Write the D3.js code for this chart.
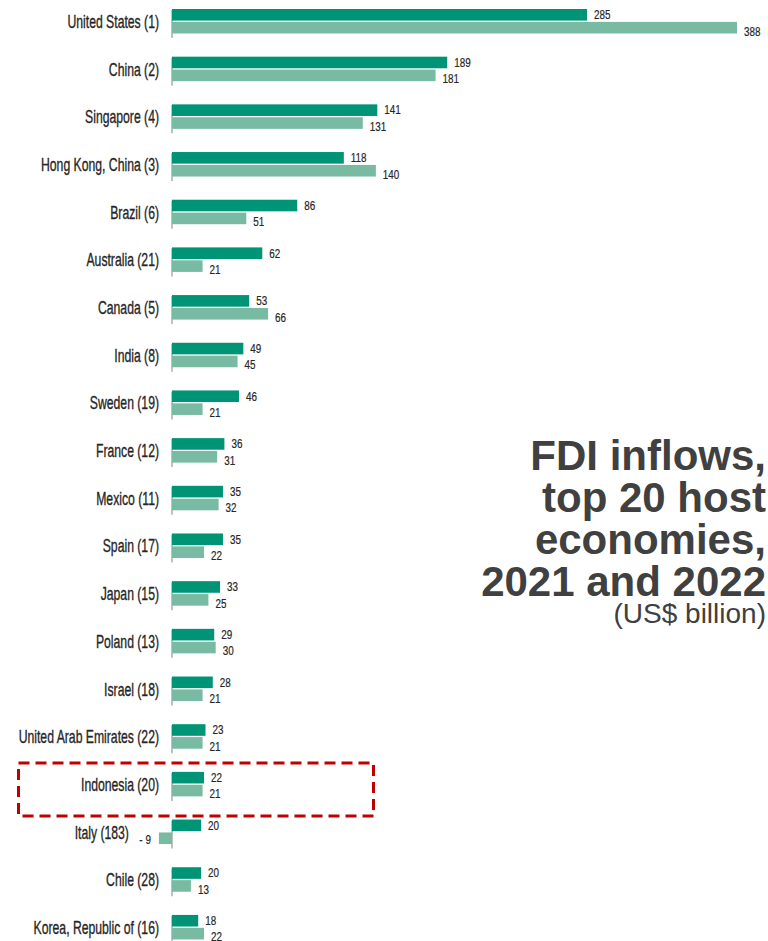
<!DOCTYPE html>
<html>
<head>
<meta charset="utf-8">
<script src="https://cdn.jsdelivr.net/npm/d3@7"></script>
<style>
  body { margin: 0; background: #fff; }
  svg { display: block; }
</style>
</head>
<body>
<script>
const width = 768;
const height = 941;

// economies (2022 rank vs 2021 rank in brackets), top to bottom
const economies = [
  "United States (1)", "China (2)", "Singapore (4)", "Hong Kong, China (3)",
  "Brazil (6)", "Australia (21)", "Canada (5)", "India (8)", "Sweden (19)",
  "France (12)", "Mexico (11)", "Spain (17)", "Japan (15)", "Poland (13)",
  "Israel (18)", "United Arab Emirates (22)", "Indonesia (20)", "Italy (183)",
  "Chile (28)", "Korea, Republic of (16)"
];
const years = ["2022", "2021"];
const values2022 = [285, 189, 141, 118, 86, 62, 53, 49, 46, 36, 35, 35, 33, 29, 28, 23, 22, 20, 20, 18];
const values2021 = [388, 181, 131, 140, 51, 21, 66, 45, 21, 31, 32, 22, 25, 30, 21, 21, 21, -9, 13, 22];
const highlighted = "Indonesia (20)";

const colors = { "2022": "#009476", "2021": "#78baa2" };
const font = "'Liberation Sans', Arial, sans-serif";
// the original uses a condensed face, so squeeze the labels horizontally
const squeeze = 0.66;
const squeezeVal = 0.76;

const svg = d3.select("body")
  .append("svg")
  .attr("width", width)
  .attr("height", height);

const x = d3.scaleLinear()
  .domain([0, 388])
  .range([172, 737]);

const y = d3.scaleBand()
  .domain(economies)
  .range([4, 4 + economies.length * 47.68]);

const yInner = d3.scaleBand()
  .domain(years)
  .range([5, 29.5])
  .paddingInner(0.1);

const rows = economies.map(function(name, i) {
  return { name: name, min: Math.min(0, values2022[i], values2021[i]), values: [
    { year: "2022", value: values2022[i] },
    { year: "2021", value: values2021[i] }
  ]};
});

const group = svg.selectAll("g.row")
  .data(rows)
  .enter()
  .append("g")
  .attr("class", "row")
  .attr("transform", d => "translate(0," + y(d.name) + ")");

// small axis segment per economy
group.append("line")
  .attr("x1", x(0)).attr("x2", x(0))
  .attr("y1", 6).attr("y2", 34)
  .attr("stroke", "#a0a0a0")
  .attr("stroke-width", 1.3);

// names move left when a negative bar + its label sit in the way
group.append("text")
  .attr("transform", d => "translate(" + (d.min < 0 ? x(d.min) - 30 : 159) + ",24) scale(" + squeeze + ",1)")
  .attr("text-anchor", "end")
  .attr("font-family", font)
  .attr("font-size", 18.5)
  .attr("fill", "#262626")
  .attr("stroke", "#262626")
  .attr("stroke-width", 0.35)
  .text(d => d.name);

group.selectAll("rect")
  .data(d => d.values)
  .enter()
  .append("rect")
  .attr("x", d => x(Math.min(0, d.value)))
  .attr("y", d => yInner(d.year))
  .attr("width", d => Math.abs(x(d.value) - x(0)))
  .attr("height", yInner.bandwidth())
  .attr("fill", d => colors[d.year]);

group.selectAll("text.val")
  .data(d => d.values)
  .enter()
  .append("text")
  .attr("class", "val")
  .attr("transform", function(d) {
    const tx = d.value < 0 ? x(d.value) - 8 : x(d.value) + 7;
    const bottom = yInner(d.year) + yInner.bandwidth();
    const ty = d.value < 0 ? bottom : (d.year === "2022" ? bottom - 1.5 : bottom + 2);
    return "translate(" + tx + "," + ty + ") scale(" + squeezeVal + ",1)";
  })
  .attr("text-anchor", d => d.value < 0 ? "end" : "start")
  .attr("font-family", font)
  .attr("font-size", 13)
  .attr("fill", "#262626")
  .attr("stroke", "#262626")
  .attr("stroke-width", 0.2)
  .text(d => d.value < 0 ? "- " + Math.abs(d.value) : d.value);

// red dashed box around the highlighted economy
svg.append("rect")
  .attr("x", 18.5)
  .attr("y", y(highlighted) - 4)
  .attr("width", 355)
  .attr("height", 53)
  .attr("fill", "none")
  .attr("stroke", "#c00000")
  .attr("stroke-width", 3)
  .attr("stroke-dasharray", "11,6");

// title block on the right
const titleLines = ["FDI inflows,", "top 20 host", "economies,", "2021 and 2022"];
svg.selectAll("text.title")
  .data(titleLines)
  .enter()
  .append("text")
  .attr("class", "title")
  .attr("x", 766)
  .attr("y", (d, i) => 470 + i * 42)
  .attr("text-anchor", "end")
  .attr("font-family", font)
  .attr("font-weight", "bold")
  .attr("font-size", 42)
  .attr("fill", "#404040")
  .text(d => d);

svg.append("text")
  .attr("x", 766)
  .attr("y", 623)
  .attr("text-anchor", "end")
  .attr("font-family", font)
  .attr("font-size", 28)
  .attr("fill", "#404040")
  .text("(US$ billion)");
</script>
</body>
</html>
